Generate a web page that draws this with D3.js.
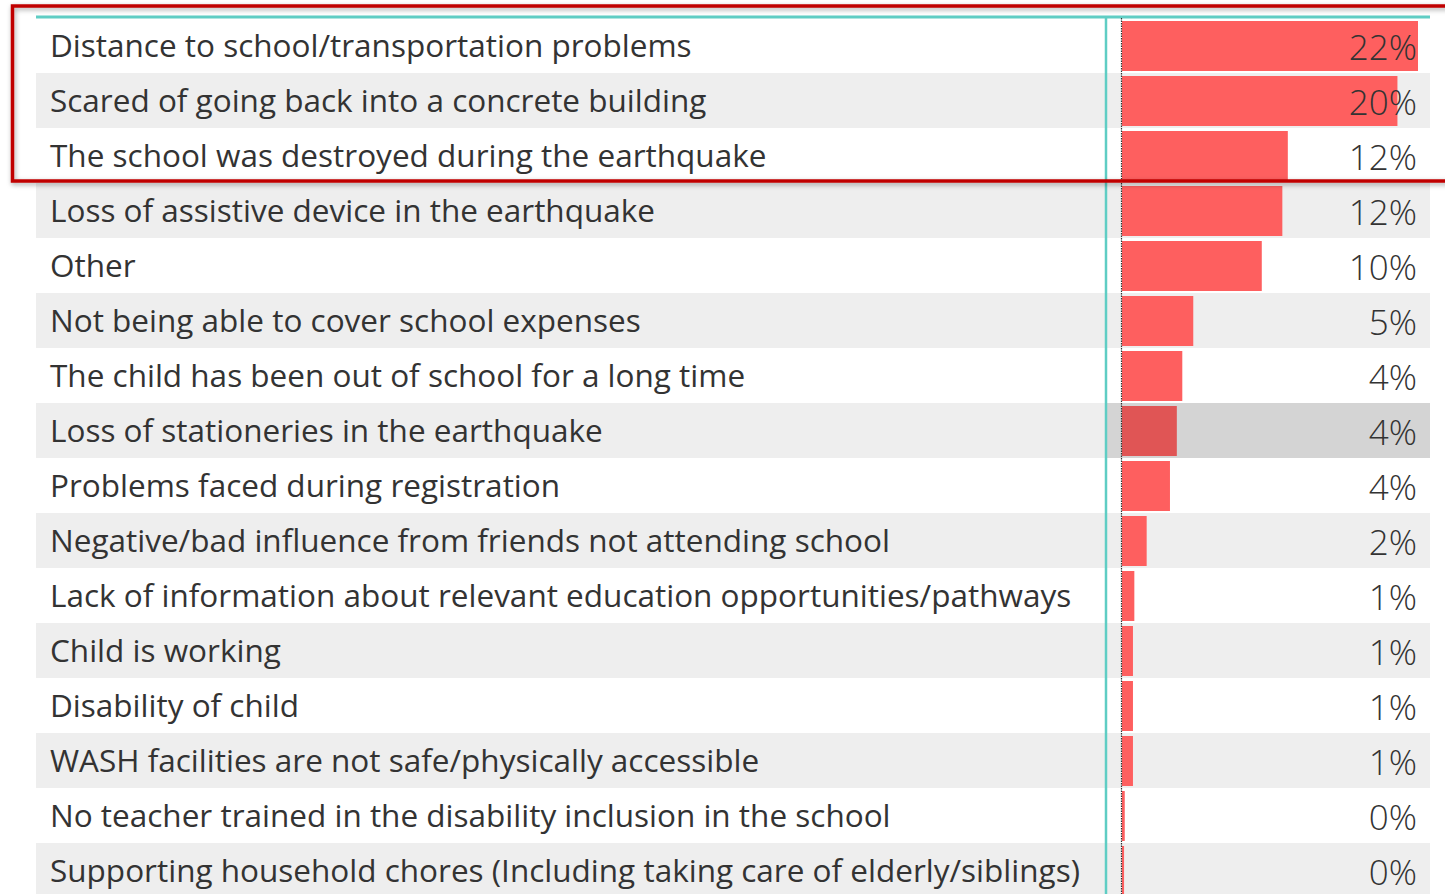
<!DOCTYPE html>
<html>
<head>
<meta charset="utf-8">
<script src="https://cdn.jsdelivr.net/npm/d3@7"></script>
<style>
  html, body { margin: 0; padding: 0; background: #fff; overflow: hidden; }
  svg { display: block; }
</style>
</head>
<body>
<svg id="chart"></svg>
<script>
// reasons children are not going back to school
var categories = [
  "Distance to school/transportation problems",
  "Scared of going back into a concrete building",
  "The school was destroyed during the earthquake",
  "Loss of assistive device in the earthquake",
  "Other",
  "Not being able to cover school expenses",
  "The child has been out of school for a long time",
  "Loss of stationeries in the earthquake",
  "Problems faced during registration",
  "Negative/bad influence from friends not attending school",
  "Lack of information about relevant education opportunities/pathways",
  "Child is working",
  "Disability of child",
  "WASH facilities are not safe/physically accessible",
  "No teacher trained in the disability inclusion in the school",
  "Supporting household chores (Including taking care of elderly/siblings)"
];
var values = [21.6, 20.1, 12.1, 11.7, 10.2, 5.2, 4.4, 4.0, 3.5, 1.8, 0.9, 0.8, 0.8, 0.8, 0.2, 0.15];
var valueLabels = ["22%", "20%", "12%", "12%", "10%", "5%", "4%", "4%", "4%", "2%", "1%", "1%", "1%", "1%", "0%", "0%"];
var selectedRow = 7; // the hovered / selected row

var svgWidth = 1445, svgHeight = 894;
var tableLeft = 36, tableRight = 1430, tableTop = 18;
var rowH = 55;
var sepX = 1106, barX = 1122, barMaxW = 296;

var svg = d3.select('#chart')
    .attr('width', svgWidth)
    .attr('height', svgHeight);

var defs = svg.append('defs');
var shadow = defs.append('filter').attr('id', 'shadow')
    .attr('x', '-5%').attr('y', '-20%').attr('width', '110%').attr('height', '140%');
shadow.append('feDropShadow')
    .attr('dx', 1).attr('dy', 2).attr('stdDeviation', 2.5)
    .attr('flood-color', '#000').attr('flood-opacity', 0.35);

var y = d3.scaleBand()
    .domain(d3.range(categories.length))
    .range([tableTop, tableTop + rowH * categories.length]);

var x = d3.scaleLinear()
    .domain([0, d3.max(values)])
    .range([0, barMaxW]);

var rows = svg.selectAll('g.row')
    .data(categories)
    .enter()
    .append('g')
    .attr('class', 'row')
    .attr('transform', function(d, i) { return 'translate(0,' + y(i) + ')'; });

// zebra stripes
rows.append('rect')
    .attr('x', tableLeft)
    .attr('width', tableRight - tableLeft)
    .attr('height', y.bandwidth())
    .attr('fill', function(d, i) { return i % 2 ? '#eeeeee' : '#ffffff'; });

// highlighted cell
rows.filter(function(d, i) { return i === selectedRow; })
    .append('rect')
    .attr('x', sepX)
    .attr('width', tableRight - sepX)
    .attr('height', y.bandwidth())
    .attr('fill', '#d4d4d4');

// data bars
rows.append('rect')
    .attr('x', barX)
    .attr('y', 3)
    .attr('width', function(d, i) { return Math.max(1.5, x(values[i])); })
    .attr('height', y.bandwidth() - 5)
    .attr('fill', function(d, i) { return i === selectedRow ? '#e05555' : '#fe5f5f'; });

// category text
rows.append('text')
    .attr('x', 50)
    .attr('y', 39)
    .attr('fill', '#333333')
    .style('font-family', '"Open Sans", sans-serif')
    .style('font-size', '31.5px')
    .text(function(d) { return d; });

// value text
rows.append('text')
    .attr('x', 1417)
    .attr('y', 42)
    .attr('text-anchor', 'end')
    .attr('fill', '#333333')
    .style('font-family', '"Open Sans", sans-serif')
    .style('font-size', '35px')
    .style('font-weight', 300)
    .text(function(d, i) { return valueLabels[i]; });

// header line and column separator
svg.append('line')
    .attr('x1', tableLeft).attr('x2', tableRight)
    .attr('y1', tableTop - 1).attr('y2', tableTop - 1)
    .attr('stroke', '#5fcdc4').attr('stroke-width', 3);

svg.append('line')
    .attr('x1', sepX).attr('x2', sepX)
    .attr('y1', tableTop).attr('y2', svgHeight)
    .attr('stroke', '#5fcdc4').attr('stroke-width', 2.5);

// zero axis of the data bars
svg.append('line')
    .attr('x1', barX - 0.5).attr('x2', barX - 0.5)
    .attr('y1', tableTop).attr('y2', svgHeight)
    .attr('stroke', '#333').attr('stroke-width', 1.2)
    .attr('stroke-dasharray', '1.5,1');

// red box round the top three
svg.append('rect')
    .attr('x', 12.5).attr('y', 6)
    .attr('width', 1460).attr('height', 175)
    .attr('fill', 'none')
    .attr('stroke', '#c00000').attr('stroke-width', 3.5)
    .attr('filter', 'url(#shadow)');
</script>
</body>
</html>
